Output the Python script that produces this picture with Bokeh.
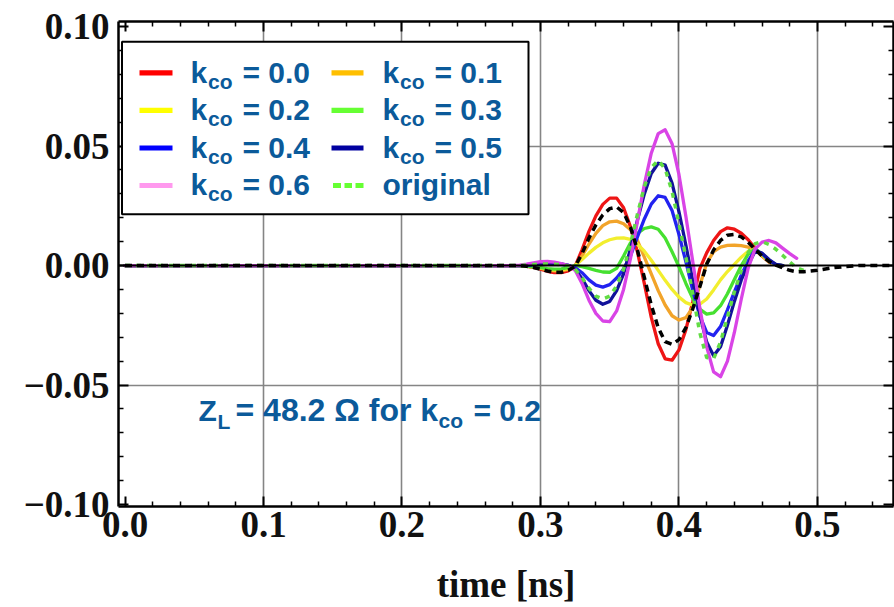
import numpy as np
from bokeh.plotting import figure
from bokeh.models import (Range1d, LinearAxis, FixedTicker, CustomJSTickFormatter,
                          Span, Label, BoxAnnotation, ColumnDataSource)
from bokeh.embed import file_html
from bokeh.resources import INLINE

# ------------------------------------------------------------------ data
time_ns = [0.0,
           0.28, 0.285, 0.29, 0.295, 0.30, 0.305, 0.31, 0.315, 0.32, 0.325,
           0.33, 0.335, 0.34, 0.345, 0.35, 0.355, 0.36, 0.365, 0.37, 0.375,
           0.38, 0.385, 0.39, 0.395, 0.40, 0.405, 0.41, 0.415, 0.42, 0.425,
           0.43, 0.435, 0.44, 0.445, 0.45, 0.455, 0.46, 0.465, 0.47, 0.475,
           0.48, 0.485, 0.49,
           0.50, 0.51, 0.52, 0.53, 0.555]

k00 = [0.0,
       0.0, 0.0, -0.0003, -0.0008, -0.0015, -0.0024, -0.0030, -0.0030, -0.0022, -0.0003,
       0.0066, 0.0143, 0.0208, 0.0256, 0.0282, 0.0282, 0.0242, 0.0162, 0.0057, -0.0076,
       -0.0217, -0.0327, -0.0390, -0.0396, -0.0353, -0.0268, -0.0150, -0.0014, 0.0053, 0.0105,
       0.0142, 0.0158, 0.0152, 0.0135, 0.0108, 0.0072, 0.0040, 0.0015, 0.0002, 0.0]

k01 = [0.0,
       0.0, 0.0, -0.0002, -0.0006, -0.0012, -0.0018, -0.0022, -0.0022, -0.0016, -0.0002,
       0.0040, 0.0090, 0.0135, 0.0167, 0.0183, 0.0186, 0.0175, 0.0150, 0.0105, 0.0035,
       -0.0035, -0.0105, -0.0165, -0.0210, -0.0228, -0.0218, -0.0175, -0.0085, 0.0010, 0.0058,
       0.0077, 0.0084, 0.0085, 0.0083, 0.0077, 0.0065, 0.0040, 0.0015, 0.0002, 0.0]

k02 = [0.0,
       0.0, 0.0, -0.0002, -0.0005, -0.0010, -0.0015, -0.0018, -0.0018, -0.0012, 0.0,
       0.0025, 0.0052, 0.0076, 0.0095, 0.0108, 0.0115, 0.0116, 0.0110, 0.0090, 0.0060,
       0.0022, -0.0020, -0.0062, -0.0100, -0.0132, -0.0155, -0.0166, -0.0162, -0.0140, -0.0102,
       -0.0060, -0.0025, 0.0005, 0.0035, 0.0060, 0.0068, 0.0045, 0.0018, 0.0003, 0.0]

k03 = [0.0,
       0.0, 0.0, -0.0002, -0.0005, -0.0009, -0.0013, -0.0015, -0.0014, -0.0009, 0.0,
       -0.0005, -0.0012, -0.0020, -0.0027, -0.0028, -0.0012, 0.0040, 0.0095, 0.0135, 0.0155,
       0.0162, 0.0152, 0.0115, 0.0058, -0.0005, -0.0075, -0.0138, -0.0182, -0.0203, -0.0198,
       -0.0168, -0.0118, -0.0058, 0.0, 0.0048, 0.0070, 0.0048, 0.0020, 0.0004, 0.0]

k04 = [0.0,
       0.0, 0.0, 0.0001, 0.0003, 0.0005, 0.0007, 0.0007, 0.0005, 0.0001, -0.0008,
       -0.0030, -0.0060, -0.0082, -0.0090, -0.0080, -0.0052, -0.0015, 0.0040, 0.0120, 0.0195,
       0.0257, 0.0292, 0.0285, 0.0230, 0.0130, 0.0015, -0.0105, -0.0210, -0.0280, -0.0293,
       -0.0255, -0.0185, -0.0110, -0.0040, 0.0020, 0.0065, 0.0050, 0.0022, 0.0004, 0.0]

k05 = [0.0,
       0.0, 0.0, 0.0002, 0.0005, 0.0008, 0.0010, 0.0010, 0.0007, 0.0001, -0.0015,
       -0.0055, -0.0105, -0.0145, -0.0162, -0.0150, -0.0105, -0.0035, 0.0070, 0.0190, 0.0300,
       0.0385, 0.0428, 0.0420, 0.0345, 0.0225, 0.0085, -0.0065, -0.0205, -0.0320, -0.0377,
       -0.0340, -0.0250, -0.0150, -0.0060, 0.0005, 0.0060, 0.0052, 0.0025, 0.0005, 0.0]

k06 = [0.0,
       0.0, 0.0002, 0.0006, 0.0011, 0.0016, 0.0017, 0.0014, 0.0008, 0.0, -0.0020,
       -0.0075, -0.0145, -0.0200, -0.0232, -0.0235, -0.0190, -0.0100, 0.0030, 0.0185, 0.0340,
       0.0470, 0.0552, 0.0568, 0.0510, 0.0380, 0.0205, 0.0015, -0.0175, -0.0340, -0.0445,
       -0.0465, -0.0400, -0.0280, -0.0140, -0.0010, 0.0070, 0.0098, 0.0105, 0.0095, 0.0072,
       0.0050, 0.0030]

original = [0.0,
            0.0, 0.0, 0.0002, 0.0004, 0.0006, 0.0007, 0.0006, 0.0003, -0.0002, -0.0015,
            -0.0050, -0.0095, -0.0128, -0.0140, -0.0128, -0.0085, -0.0015, 0.0090, 0.0215, 0.0330,
            0.0410, 0.0440, 0.0405, 0.0310, 0.0175, 0.0035, -0.0120, -0.0280, -0.0385, -0.0390,
            -0.0320, -0.0215, -0.0110, -0.0020, 0.0055, 0.0092, 0.0100, 0.0088, 0.0068, 0.0042,
            0.0015, -0.0010, -0.0020]

# unlabelled black dashed reference trace
reference = [0.0,
             0.0, 0.0, -0.0003, -0.0008, -0.0015, -0.0023, -0.0028, -0.0028, -0.0020, -0.0004,
             0.0050, 0.0115, 0.0170, 0.0212, 0.0238, 0.0245, 0.0222, 0.0160, 0.0065, -0.0050,
             -0.0165, -0.0260, -0.0318, -0.0330, -0.0310, -0.0260, -0.0180, -0.0090, 0.0005, 0.0065,
             0.0105, 0.0127, 0.0130, 0.0120, 0.0097, 0.0068, 0.0040, 0.0017, 0.0002, -0.0010,
             -0.0020, -0.0026, -0.0026,
             -0.0020, -0.0010, -0.0004, 0.0, 0.0]

k_labels = ["0.0", "0.1", "0.2", "0.3", "0.4", "0.5", "0.6"]

x_ticks = [0.0, 0.1, 0.2, 0.3, 0.4, 0.5]
x_tick_labels = ["0.0", "0.1", "0.2", "0.3", "0.4", "0.5"]
y_ticks = [-0.10, -0.05, 0.0, 0.05, 0.10]
y_tick_labels = ["\u22120.10", "\u22120.05", "0.00", "0.05", "0.10"]
x_grid = [0.1, 0.2, 0.3, 0.4, 0.5]
y_grid = [-0.05, 0.05]
x_title = "time [ns]"

# ------------------------------------------------------------------ layout
W, H = 894, 607
FL, FR, FT, FB = 118, 893, 21, 509
X0, X1 = -0.0047, 0.5549
Y0, Y1 = -0.1008, 0.1021
LABEL_SHIFT = 11   # label anchor correction (px)


def dx(px):
    return X0 + (px - FL) / (FR - FL) * (X1 - X0)


def dy(py):
    return Y1 - (py - FT) / (FB - FT) * (Y1 - Y0)


p = figure(width=W, height=H, output_backend="svg", toolbar_location=None,
           x_range=Range1d(X0, X1), y_range=Range1d(Y0, Y1),
           min_border_left=FL, min_border_right=W - FR,
           min_border_top=FT, min_border_bottom=H - FB)
p.outline_line_color = None
p.background_fill_color = "white"
p.border_fill_color = "white"

x_minor = [round(0.02 * i, 2) for i in range(28) if i % 5 != 0]
y_minor = [round(-0.10 + 0.01 * i, 2) for i in range(21) if i % 5 != 0]


def tick_fmt(tvals, tlabels):
    return CustomJSTickFormatter(args=dict(tvals=tvals, tlabels=tlabels), code="""
        for (let i = 0; i < tvals.length; i++) {
            if (Math.abs(tick - tvals[i]) < 1e-9) { return tlabels[i]; }
        }
        return "";
    """)


def style_axis(ax):
    ax.axis_line_color = "black"
    ax.axis_line_width = 2.5
    ax.major_tick_in = 10
    ax.major_tick_out = 0
    ax.minor_tick_in = 5
    ax.minor_tick_out = 0
    ax.major_tick_line_color = "black"
    ax.major_tick_line_width = 2
    ax.minor_tick_line_color = "black"
    ax.minor_tick_line_width = 1.5


xax = p.xaxis[0]
yax = p.yaxis[0]
xax.ticker = FixedTicker(ticks=x_ticks, minor_ticks=x_minor)
yax.ticker = FixedTicker(ticks=y_ticks, minor_ticks=y_minor)
xax.formatter = tick_fmt(x_ticks, x_tick_labels)
yax.formatter = tick_fmt(y_ticks, y_tick_labels)
for ax in (xax, yax):
    style_axis(ax)
    ax.major_label_text_font = "Liberation Serif"
    ax.major_label_text_font_style = "bold"
    ax.major_label_text_font_size = "37px"
    ax.major_label_text_color = "#111111"
xax.major_label_standoff = 5
yax.major_label_standoff = 9
xax.axis_label = x_title
xax.axis_label_text_font = "Liberation Serif"
xax.axis_label_text_font_style = "bold"
xax.axis_label_text_font_size = "37px"
xax.axis_label_text_color = "#111111"
xax.axis_label_standoff = 24

top_ax = LinearAxis(ticker=FixedTicker(ticks=x_ticks, minor_ticks=x_minor),
                    formatter=CustomJSTickFormatter(code="return '';"),
                    major_label_standoff=0, major_label_text_font_size="1px")
right_ax = LinearAxis(ticker=FixedTicker(ticks=y_ticks, minor_ticks=y_minor),
                      formatter=CustomJSTickFormatter(code="return '';"),
                      major_label_standoff=0, major_label_text_font_size="1px")
style_axis(top_ax)
style_axis(right_ax)
p.add_layout(top_ax, "above")
p.add_layout(right_ax, "right")

p.xgrid.ticker = FixedTicker(ticks=x_grid)
p.ygrid.ticker = FixedTicker(ticks=y_grid)
for g in (p.xgrid[0], p.ygrid[0]):
    g.grid_line_color = "#858585"
    g.grid_line_width = 1.6

p.add_layout(Span(location=0, dimension="width", line_color="black", line_width=2))

# ------------------------------------------------------------------ curves
curves = [
    (k00, "#ee1515", None),
    (k01, "#f2a42a", None),
    (k02, "#f2ee2e", None),
    (k03, "#46e030", None),
    (k04, "#2222f0", None),
    (k05, "#12129a", None),
    (k06, "#d944e6", None),
    (original, "#62dc44", "5 6"),
    (reference, "#000000", "7 5"),
]
for vals, col, dash in curves:
    src = ColumnDataSource(dict(t=time_ns[:len(vals)], v=vals))
    if dash is None:
        p.line("t", "v", source=src, line_color=col, line_width=3.3,
               line_join="round", line_cap="round")
    else:
        p.line("t", "v", source=src, line_color=col, line_width=3.5, line_dash=dash,
               line_join="round")

# ------------------------------------------------------------------ text helpers
TXT = "#0b5a9a"
FONT = "Liberation Sans"


def add_label(text, px, py, size):
    p.add_layout(Label(x=dx(px), y=dy(py - LABEL_SHIFT), text=text, text_font=FONT,
                       text_font_style="bold", text_font_size=size, text_color=TXT,
                       text_baseline="alphabetic", text_align="left"))


# ------------------------------------------------------------------ legend (manual, for subscripts)
p.add_layout(BoxAnnotation(left=dx(121.5), right=dx(528), top=dy(41.5), bottom=dy(215),
                           fill_color="white", fill_alpha=1.0,
                           line_color="black", line_alpha=1.0, line_width=2, level="annotation"))

legend_colors = ["#ff0000", "#ffbf00", "#ffff00", "#66ff33", "#0000ff", "#0000a0", "#ff99ee"]
col_sample = [(139, 172), (331, 363)]
col_text = [190, 382]
row_center = [72.7, 110.5, 148.3, 186.0]
row_base = [83.0, 120.7, 158.4, 196.0]

for i, (lab, col) in enumerate(zip(k_labels, legend_colors)):
    r, c = divmod(i, 2)
    x0s, x1s = col_sample[c]
    yc = row_center[r]
    p.add_layout(BoxAnnotation(left=dx(x0s), right=dx(x1s), top=dy(yc - 2.6), bottom=dy(yc + 2.6),
                               fill_color=col, fill_alpha=1.0, line_color=None))
    xt = col_text[c]
    add_label("k", xt, row_base[r], "30px")
    add_label("co", xt + 17.5, row_base[r] + 9, "21px")
    add_label("= " + lab, xt + 52, row_base[r], "30px")

# dashed sample for "original"
for a, b in [(332.5, 340.5), (344, 351.5), (355, 363)]:
    p.add_layout(BoxAnnotation(left=dx(a), right=dx(b), top=dy(row_center[3] - 2.6),
                               bottom=dy(row_center[3] + 2.6),
                               fill_color="#66ff33", fill_alpha=1.0, line_color=None))
add_label("original", col_text[1], row_base[3], "30px")

# ------------------------------------------------------------------ annotation
add_label("Z", 198, 423, "30px")
add_label("L", 217, 434, "21px")
add_label("= 48.2 \u03a9 for k", 235, 423, "32px")
add_label("co", 438, 433, "21px")
add_label("= 0.2", 473, 423, "30px")

open("out.html", "w").write(file_html(p, INLINE))
